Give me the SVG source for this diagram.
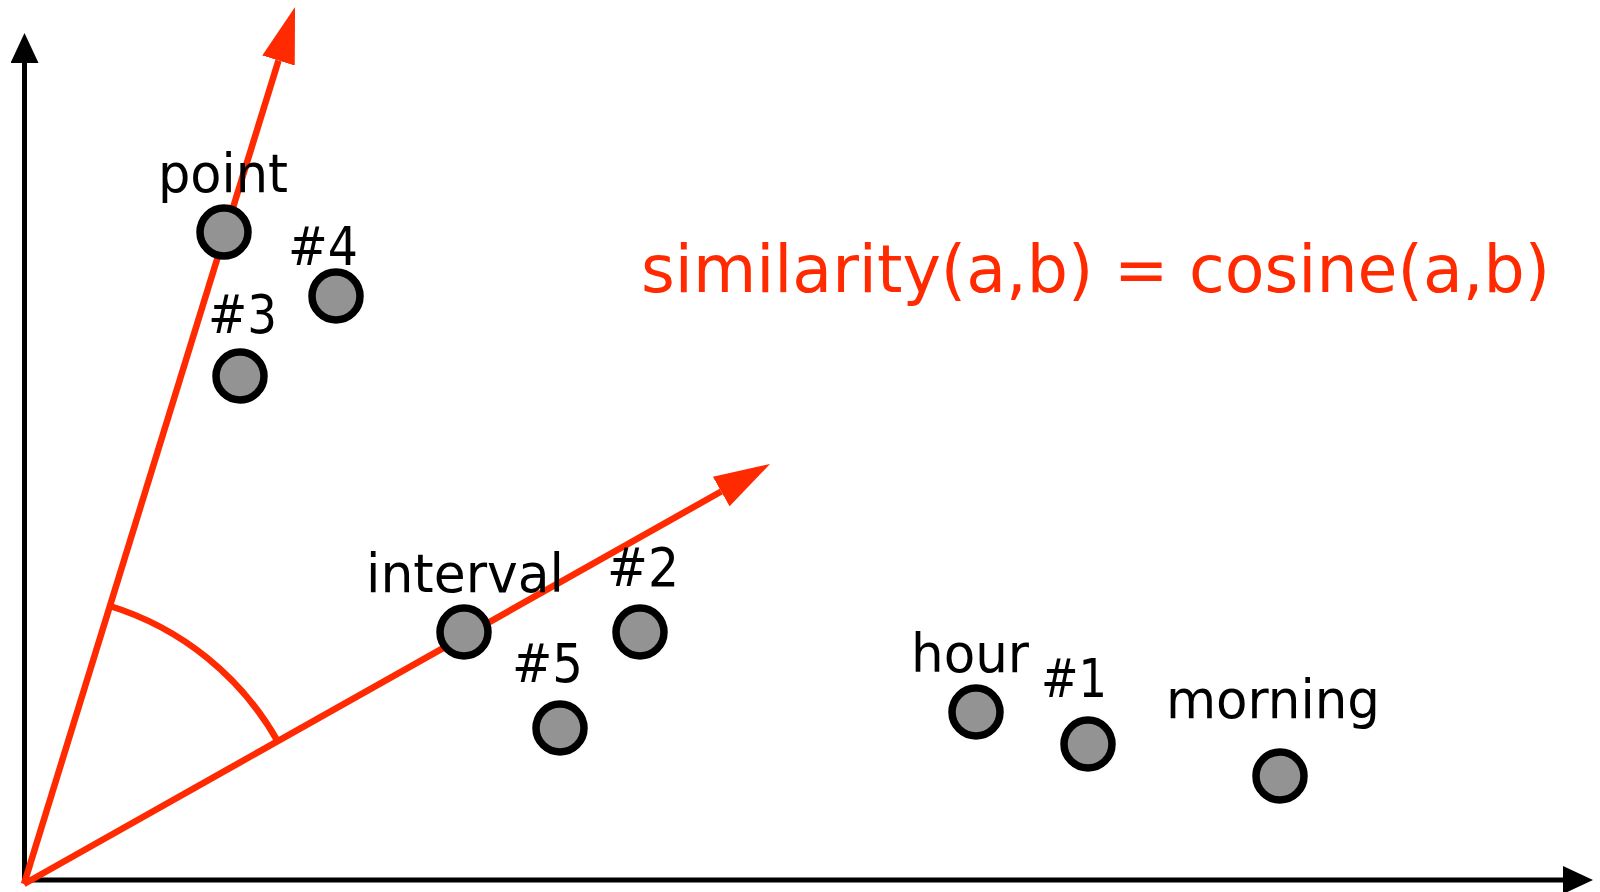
<svg xmlns="http://www.w3.org/2000/svg" width="1600" height="892" viewBox="0 0 1600 892">
<style>
  .pt { fill: #939393; stroke: #000; stroke-width: 7.5; }
  .lbl { font-family: "DejaVu Sans", Verdana, sans-serif; font-size: 54px; fill: #000; }
  .eq { font-family: "DejaVu Sans", Verdana, sans-serif; font-size: 66px; fill: #ff2a00; }
  .axis { stroke: #000; stroke-width: 5; fill: none; }
  .vec { stroke: #ff2a00; stroke-width: 6.5; fill: none; }
</style>
<defs>
  <marker id="blackHead" markerUnits="userSpaceOnUse" markerWidth="30" markerHeight="28" refX="0" refY="14" orient="auto">
    <path d="M0,0 L30,14 L0,28 z" fill="#000"/>
  </marker>
  <marker id="redHead" markerUnits="userSpaceOnUse" markerWidth="56" markerHeight="34" refX="0" refY="17" orient="auto">
    <path d="M0,0 L56,17 L0,34 z" fill="#ff2a00"/>
  </marker>
</defs>
<rect width="1600" height="892" fill="#fff"/>
<g id="connectors">
  <line id="y-axis" class="axis" x1="24.5" y1="882.5" x2="24.5" y2="63" marker-end="url(#blackHead)"/>
  <line id="x-axis" class="axis" x1="22" y1="880" x2="1563" y2="880" marker-end="url(#blackHead)"/>
  <line id="vector-a" class="vec" x1="24" y1="884" x2="278.5" y2="60.5" marker-end="url(#redHead)"/>
  <line id="vector-b" class="vec" x1="24" y1="884" x2="721.2" y2="491.5" marker-end="url(#redHead)"/>
  <path id="angle-arc" class="vec" d="M109.9,606 A291,291 0 0 1 277.6,741.2"/>
</g>
<g id="node-point"><circle class="pt" cx="224" cy="232" r="24"/><text class="lbl" x="158" y="192" textLength="130" lengthAdjust="spacingAndGlyphs">point</text></g>
<g id="node-4"><circle class="pt" cx="336" cy="296" r="24"/><text class="lbl" x="288" y="265" textLength="70" lengthAdjust="spacingAndGlyphs">#4</text></g>
<g id="node-3"><circle class="pt" cx="240" cy="376" r="24"/><text class="lbl" x="208" y="333" textLength="69" lengthAdjust="spacingAndGlyphs">#3</text></g>
<g id="node-interval"><circle class="pt" cx="464" cy="632" r="24"/><text class="lbl" x="366" y="592" textLength="198" lengthAdjust="spacingAndGlyphs">interval</text></g>
<g id="node-2"><circle class="pt" cx="640" cy="632" r="24"/><text class="lbl" x="607" y="586" textLength="72" lengthAdjust="spacingAndGlyphs">#2</text></g>
<g id="node-5"><circle class="pt" cx="560" cy="728" r="24"/><text class="lbl" x="512" y="682" textLength="71" lengthAdjust="spacingAndGlyphs">#5</text></g>
<g id="node-hour"><circle class="pt" cx="976" cy="712" r="24"/><text class="lbl" x="911" y="672" textLength="118" lengthAdjust="spacingAndGlyphs">hour</text></g>
<g id="node-1"><circle class="pt" cx="1088" cy="744" r="24"/><text class="lbl" x="1041" y="697" textLength="66" lengthAdjust="spacingAndGlyphs">#1</text></g>
<g id="node-morning"><circle class="pt" cx="1280" cy="776" r="24"/><text class="lbl" x="1166" y="718" textLength="214" lengthAdjust="spacingAndGlyphs">morning</text></g>
<g id="formula"><text class="eq" x="641" y="292" textLength="909" lengthAdjust="spacingAndGlyphs">similarity(a,b) = cosine(a,b)</text></g>
</svg>
